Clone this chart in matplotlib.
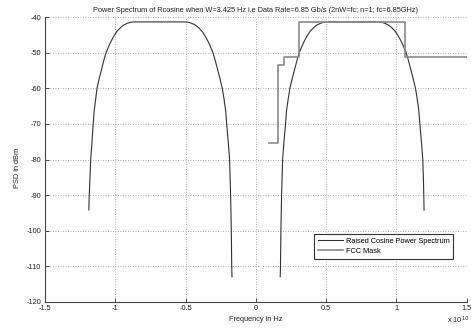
import numpy as np
import matplotlib
matplotlib.use('Agg')
import matplotlib.pyplot as plt
from matplotlib.ticker import FuncFormatter

# frequency in units of 1e10 Hz, PSD in dBm
left_lobe_f = [-1.188, -1.185, -1.180, -1.175, -1.166, -1.157, -1.150, -1.140, -1.130,
               -1.113, -1.095, -1.080, -1.065, -1.037, -1.013, -0.989, -0.965, -0.941,
               -0.915, -0.890, -0.870, -0.500, -0.480, -0.455, -0.429, -0.405, -0.381,
               -0.357, -0.333, -0.305, -0.290, -0.274, -0.256, -0.238, -0.225, -0.214,
               -0.207, -0.195, -0.186, -0.179, -0.174, -0.171, -0.169]
left_lobe_db = [-94.2, -90.0, -85.0, -80.1, -75.4, -70.0, -66.3, -63.2, -60.0,
                -57.0, -54.3, -51.9, -49.9, -47.3, -45.5, -44.0, -43.0, -42.2,
                -41.7, -41.4, -41.3, -41.3, -41.4, -41.7, -42.2, -43.0, -44.0,
                -45.5, -47.3, -49.9, -51.9, -54.3, -57.0, -60.0, -63.2, -66.3,
                -70.0, -75.4, -80.1, -90.0, -99.8, -110.2, -113.0]

right_lobe_f = [0.174, 0.176, 0.179, 0.184, 0.191, 0.200, 0.212, 0.219, 0.230, 0.243,
                0.261, 0.279, 0.295, 0.310, 0.338, 0.362, 0.386, 0.410, 0.434, 0.460,
                0.485, 0.505, 0.875, 0.895, 0.920, 0.946, 0.970, 0.994, 1.018, 1.042,
                1.070, 1.085, 1.101, 1.119, 1.137, 1.150, 1.161, 1.168, 1.180, 1.189,
                1.193, 1.196, 1.198]
right_lobe_db = [-113.0, -110.2, -99.8, -90.0, -80.1, -75.4, -70.0, -66.3, -63.2, -60.0,
                 -57.0, -54.3, -51.9, -49.9, -47.3, -45.5, -44.0, -43.0, -42.2, -41.7,
                 -41.4, -41.3, -41.3, -41.4, -41.7, -42.2, -43.0, -44.0, -45.5, -47.3,
                 -49.9, -51.9, -54.3, -57.0, -60.0, -63.2, -66.3, -70.0, -75.4, -80.1,
                 -85.0, -90.0, -94.2]

# FCC indoor UWB mask (band edges in 1e10 Hz)
mask_f = [0.096, 0.161, 0.199, 0.310, 1.060, 1.500]
mask_db = [-75.3, -53.3, -51.3, -41.3, -51.3, -51.3]

xticks = [-1.5, -1, -0.5, 0, 0.5, 1, 1.5]
yticks = [-120, -110, -100, -90, -80, -70, -60, -50, -40]

plt.rcParams['font.family'] = ['Liberation Sans', 'DejaVu Sans']
plt.rcParams['axes.unicode_minus'] = False
fs = 5.3

fig = plt.figure(figsize=(4.71, 3.33), dpi=100)
ax = fig.add_axes([45 / 471, 1 - 301.7 / 333, 421.5 / 471, 284.4 / 333])

rc_f = np.concatenate([left_lobe_f, [np.nan], right_lobe_f])
rc_db = np.concatenate([left_lobe_db, [np.nan], right_lobe_db])
ax.plot(rc_f, rc_db, color='#333333', linewidth=0.8, label='Raised Cosine Power Spectrum')
ax.plot(mask_f, mask_db, drawstyle='steps-post', color='#8a8a8a', linewidth=1.2,
        label='FCC Mask')

ax.set_xlim(-1.5, 1.5)
ax.set_ylim(-120, -40)
ax.set_xticks(xticks)
ax.set_yticks(yticks)
ax.xaxis.set_major_formatter(FuncFormatter(lambda v, p: '%g' % v))
ax.tick_params(direction='in', length=3, width=0.6, labelsize=fs, colors='#333333',
               labelcolor='#222222')
ax.tick_params(axis='x', pad=2.5)
ax.tick_params(axis='y', pad=2.5)
ax.grid(True, color='#999999', linestyle=(0, (1, 2)), linewidth=0.6)

for s in ['top', 'right']:
    ax.spines[s].set_visible(False)
for s in ['left', 'bottom']:
    ax.spines[s].set_linewidth(0.8)
    ax.spines[s].set_color('#444444')

ax.set_title('Power Spectrum of Rcosine when W=3.425 Hz i.e Data Rate=6.85 Gb/s '
             '(2nW=fc; n=1; fc=6.85GHz)', fontsize=fs, pad=4, color='#222222')
ax.set_xlabel('Frequency in Hz', fontsize=fs, color='#222222', labelpad=3)
ax.set_ylabel('PSD in dBm', fontsize=fs, color='#222222')
ax.yaxis.set_label_coords(-0.057, 0.47)
fig.text(447 / 471, 1 - 324 / 333, 'x 10$^{10}$', fontsize=fs, color='#222222',
         ha='left', va='baseline')

leg = ax.legend(loc='lower right', bbox_to_anchor=(0.977, 0.1385), fontsize=fs,
                fancybox=False, framealpha=1, edgecolor='#333333', handlelength=3.4,
                borderpad=0.5, labelspacing=0.4, handletextpad=0.4)
leg.get_frame().set_linewidth(0.8)

fig.savefig('out.png', dpi=100, facecolor='white')
